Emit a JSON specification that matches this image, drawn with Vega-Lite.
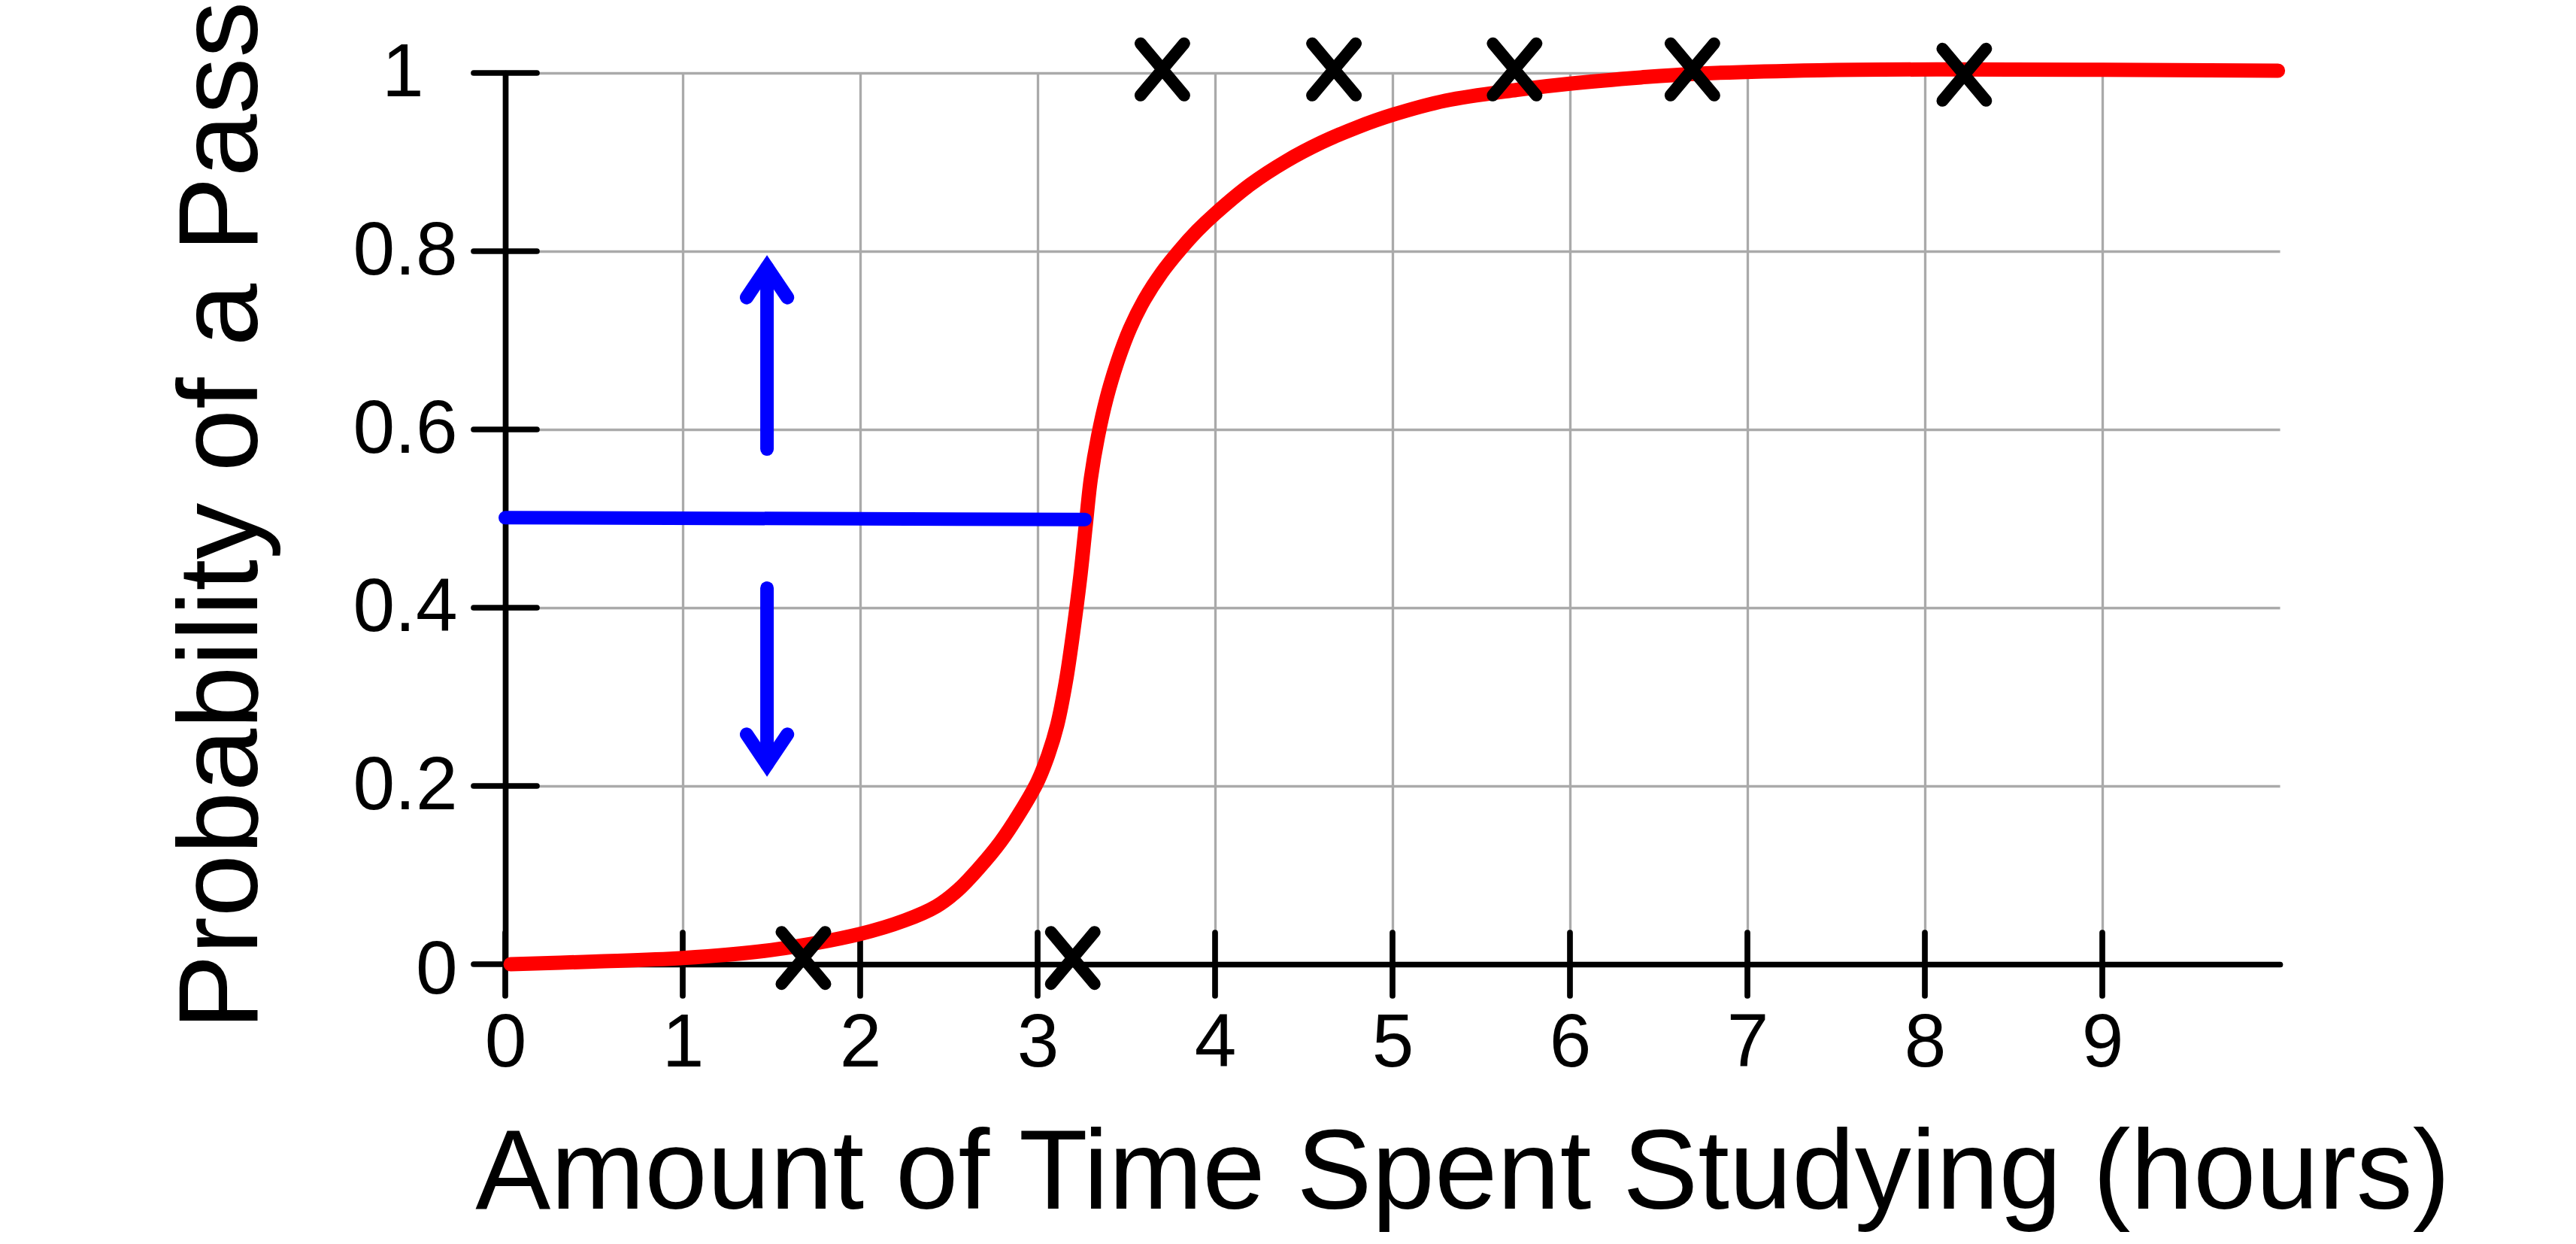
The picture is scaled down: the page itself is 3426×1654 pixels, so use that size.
{
  "$schema": "https://vega.github.io/schema/vega-lite/v6.json",
  "width": 2360,
  "height": 1185,
  "autosize": {"type": "none"},
  "padding": {"left": 672, "top": 97, "right": 394, "bottom": 372},
  "background": "white",
  "config": {
    "view": {"stroke": null},
    "axis": {"labelFont": "Liberation Sans", "titleFont": "Liberation Sans"}
  },
  "datasets": {
    "curve": [
      {"x": 0.03, "y": 0.0}, {"x": 0.5, "y": 0.003}, {"x": 1.0, "y": 0.007},
      {"x": 1.5, "y": 0.016}, {"x": 2.0, "y": 0.034}, {"x": 2.25, "y": 0.049},
      {"x": 2.43, "y": 0.065}, {"x": 2.55, "y": 0.083}, {"x": 2.67, "y": 0.108},
      {"x": 2.79, "y": 0.137}, {"x": 2.9, "y": 0.17}, {"x": 3.0, "y": 0.205},
      {"x": 3.06, "y": 0.235}, {"x": 3.11, "y": 0.268}, {"x": 3.16, "y": 0.318},
      {"x": 3.2, "y": 0.372}, {"x": 3.24, "y": 0.434}, {"x": 3.27, "y": 0.49},
      {"x": 3.3, "y": 0.545}, {"x": 3.34, "y": 0.592}, {"x": 3.39, "y": 0.636},
      {"x": 3.45, "y": 0.676}, {"x": 3.52, "y": 0.713}, {"x": 3.6, "y": 0.745},
      {"x": 3.7, "y": 0.776}, {"x": 3.8, "y": 0.801}, {"x": 3.9, "y": 0.823},
      {"x": 4.0, "y": 0.842}, {"x": 4.2, "y": 0.875}, {"x": 4.4, "y": 0.901},
      {"x": 4.6, "y": 0.922}, {"x": 4.8, "y": 0.939}, {"x": 5.0, "y": 0.953},
      {"x": 5.3, "y": 0.969}, {"x": 5.7, "y": 0.981}, {"x": 6.0, "y": 0.988},
      {"x": 6.4, "y": 0.995}, {"x": 6.7, "y": 0.999}, {"x": 7.4, "y": 1.003},
      {"x": 8.1, "y": 1.004}, {"x": 9.0, "y": 1.0035}, {"x": 9.99, "y": 1.0025}
    ],
    "exams": [
      {"x": 1.68, "y": 0.007}, {"x": 3.198, "y": 0.007},
      {"x": 3.703, "y": 1.004}, {"x": 4.67, "y": 1.004}, {"x": 5.688, "y": 1.004},
      {"x": 6.69, "y": 1.004}, {"x": 8.222, "y": 0.998}
    ],
    "guides": [
      {"part": "h", "k": 0, "x": 0, "y": 0.501},
      {"part": "h", "k": 1, "x": 3.267, "y": 0.499},
      {"part": "upShaft", "k": 0, "x": 1.475, "y": 0.578},
      {"part": "upShaft", "k": 1, "x": 1.475, "y": 0.782},
      {"part": "upHead", "k": 0, "x": 1.36, "y": 0.748},
      {"part": "upHead", "k": 1, "x": 1.475, "y": 0.782},
      {"part": "upHead", "k": 2, "x": 1.59, "y": 0.748},
      {"part": "downShaft", "k": 0, "x": 1.475, "y": 0.422},
      {"part": "downShaft", "k": 1, "x": 1.475, "y": 0.224},
      {"part": "downHead", "k": 0, "x": 1.36, "y": 0.258},
      {"part": "downHead", "k": 1, "x": 1.475, "y": 0.224},
      {"part": "downHead", "k": 2, "x": 1.59, "y": 0.258}
    ],
    "yticks": [
      {"x": 0, "y": 0}, {"x": 0, "y": 0.2}, {"x": 0, "y": 0.4},
      {"x": 0, "y": 0.6}, {"x": 0, "y": 0.8}, {"x": 0, "y": 1}
    ],
    "xticks": [
      {"x": 0, "y": 0}, {"x": 1, "y": 0}, {"x": 2, "y": 0}, {"x": 3, "y": 0}, {"x": 4, "y": 0},
      {"x": 5, "y": 0}, {"x": 6, "y": 0}, {"x": 7, "y": 0}, {"x": 8, "y": 0}, {"x": 9, "y": 0}
    ]
  },
  "encoding": {
    "x": {
      "field": "x",
      "type": "quantitative",
      "scale": {"domain": [0, 10], "nice": false, "zero": false},
      "axis": {
        "values": [0, 1, 2, 3, 4, 5, 6, 7, 8, 9],
        "format": "~g",
        "title": "Amount of Time Spent Studying (hours)",
        "grid": true,
        "gridColor": "#aaaaaa",
        "gridWidth": 3.3,
        "domainColor": "black",
        "domainWidth": 7.7,
        "domainCap": "round",
        "ticks": false,
        "tickSize": 0,
        "labelFontSize": 100,
        "labelColor": "black",
        "labelPadding": 135,
        "labelBaseline": "alphabetic",
        "labelAlign": "center",
        "labelFlush": false,
        "labelOverlap": false,
        "titleFontSize": 150,
        "titleFontWeight": "normal",
        "titleColor": "black",
        "titleX": 1273,
        "titleY": 324,
        "titleAlign": "center",
        "titleBaseline": "alphabetic"
      }
    },
    "y": {
      "field": "y",
      "type": "quantitative",
      "scale": {"domain": [0, 1], "nice": false, "zero": false},
      "axis": {
        "values": [0, 0.2, 0.4, 0.6, 0.8, 1],
        "format": "~g",
        "title": "Probability of a Pass",
        "grid": true,
        "gridColor": {"condition": {"test": "datum.value === 0", "value": "transparent"}, "value": "#aaaaaa"},
        "gridWidth": 3.3,
        "domainColor": "black",
        "domainWidth": 7.7,
        "domainCap": "round",
        "ticks": false,
        "tickSize": 0,
        "labelFontSize": 100,
        "labelColor": "black",
        "labelPadding": {"condition": {"test": "datum.value === 1", "value": 109}, "value": 64},
        "labelOffset": {"condition": {"test": "datum.value === 0", "value": 8}, "value": 0},
        "labelAlign": "right",
        "labelBaseline": "middle",
        "labelFlush": false,
        "labelOverlap": false,
        "titleFontSize": 150,
        "titleFontWeight": "normal",
        "titleColor": "black",
        "titleAngle": 270,
        "titleX": -331,
        "titleY": 588,
        "titleAlign": "center",
        "titleBaseline": "alphabetic"
      }
    }
  },
  "layer": [
    {
      "data": {"name": "yticks"},
      "mark": {"type": "rule", "color": "black", "strokeWidth": 7.7, "strokeCap": "round", "xOffset": -42, "x2Offset": 42},
      "encoding": {
        "x2": {"field": "x"}
      }
    },
    {
      "data": {"name": "xticks"},
      "mark": {"type": "rule", "color": "black", "strokeWidth": 7.7, "strokeCap": "round", "yOffset": -42, "y2Offset": 42},
      "encoding": {
        "y2": {"field": "y"}
      }
    },
    {
      "data": {"name": "curve"},
      "mark": {"type": "line", "color": "#ff0000", "strokeWidth": 19, "strokeCap": "round", "interpolate": "catmull-rom"}
    },
    {
      "data": {"name": "guides"},
      "mark": {"type": "line", "color": "#0000ff", "strokeWidth": 18, "strokeCap": "round", "strokeJoin": "miter"},
      "encoding": {
        "detail": {"field": "part", "type": "nominal"},
        "order": {"field": "k", "type": "quantitative"}
      }
    },
    {
      "data": {"name": "exams"},
      "mark": {
        "type": "point",
        "shape": "M-0.84,-1L0.84,1M0.84,-1L-0.84,1",
        "filled": false,
        "color": "black",
        "strokeWidth": 16,
        "strokeCap": "round",
        "opacity": 1,
        "size": 4761
      }
    }
  ]
}
